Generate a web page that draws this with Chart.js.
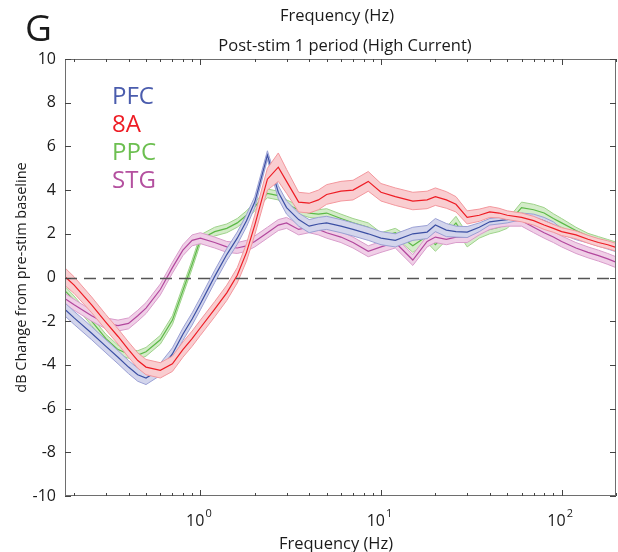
<!DOCTYPE html>
<html>
<head>
<meta charset="utf-8">
<script src="https://cdn.jsdelivr.net/npm/chart.js@4.4.1/dist/chart.umd.min.js"></script>
<style>
  html, body { margin: 0; padding: 0; background: #fff; }
  #wrap { width: 618px; height: 552px; }
</style>
</head>
<body>
<div id="wrap"><canvas id="c" width="618" height="552"></canvas></div>
<script>
// Frequencies (Hz) shared by all regions
const freqs = [0.18,0.2,0.25,0.3,0.35,0.4,0.45,0.5,0.6,0.7,
               0.8,0.9,1.0,1.2,1.4,1.6,1.8,2.0,2.35,2.7,
               3.0,3.5,4,4.5,5,6,7,8.5,10,12,
               15,18,20,23,26,30,35,40,45,50,
               60,70,80,90,100,120,140,160,180,200];

// Mean dB change per region
const pfcMean = [-1.5,-1.85,-2.55,-3.15,-3.65,-4.1,-4.45,-4.6,-4.2,-3.5,
                 -2.6,-1.9,-1.2,0.05,1.05,1.8,2.6,3.45,5.6,3.9,
                 3.2,2.65,2.35,2.45,2.5,2.35,2.2,2.0,1.8,1.7,
                 2.0,2.08,2.4,2.17,2.1,2.08,2.3,2.55,2.6,2.65,
                 2.8,2.75,2.6,2.4,2.1,1.85,1.7,1.55,1.42,1.3];
const a8Mean  = [0.0,-0.35,-1.25,-2.05,-2.7,-3.3,-3.8,-4.1,-4.25,-3.95,
                 -3.3,-2.8,-2.3,-1.45,-0.7,0.1,1.15,2.4,4.5,5.05,
                 4.4,3.45,3.4,3.55,3.8,3.95,4.0,4.4,3.9,3.7,
                 3.5,3.55,3.7,3.55,3.35,2.75,2.85,3.0,2.95,2.85,
                 2.75,2.6,2.4,2.25,2.1,1.95,1.75,1.6,1.5,1.38];
const ppcMean = [-0.65,-1.05,-2.0,-2.8,-3.3,-3.5,-3.55,-3.4,-2.85,-1.95,
                 -0.6,0.6,1.75,2.1,2.25,2.5,2.85,3.25,3.85,3.75,
                 3.35,3.1,2.95,2.9,2.95,2.7,2.5,2.3,1.85,2.05,
                 1.45,1.9,1.5,2.0,2.5,1.7,2.05,2.2,2.3,2.45,
                 3.2,3.1,2.95,2.7,2.5,2.15,1.9,1.75,1.62,1.5];
const stgMean = [-1.0,-1.25,-1.75,-2.1,-2.2,-2.1,-1.75,-1.4,-0.55,0.45,
                 1.25,1.7,1.8,1.6,1.4,1.35,1.45,1.65,2.05,2.4,
                 2.5,2.2,2.3,2.2,2.05,1.85,1.6,1.2,1.4,1.6,
                 0.8,1.65,1.85,1.75,1.85,1.85,2.2,2.45,2.55,2.6,
                 2.6,2.3,2.05,1.85,1.65,1.35,1.15,1.0,0.85,0.7];

// Standard error half-widths per region
const pfcSem = [0.3,0.3,0.3,0.3,0.3,0.3,0.3,0.3,0.28,0.28,
                0.28,0.28,0.28,0.28,0.28,0.28,0.28,0.25,0.2,0.3,
                0.3,0.3,0.3,0.3,0.3,0.3,0.3,0.3,0.3,0.3,
                0.3,0.3,0.3,0.3,0.25,0.25,0.2,0.15,0.15,0.15,
                0.15,0.15,0.15,0.15,0.12,0.12,0.12,0.12,0.12,0.12];
const a8Sem  = [0.4,0.38,0.36,0.35,0.35,0.35,0.35,0.35,0.35,0.35,
                0.35,0.35,0.35,0.35,0.35,0.35,0.4,0.45,0.5,0.65,
                0.55,0.45,0.45,0.45,0.45,0.45,0.45,0.45,0.4,0.4,
                0.4,0.4,0.4,0.38,0.35,0.3,0.28,0.25,0.22,0.2,
                0.2,0.2,0.2,0.18,0.18,0.18,0.18,0.18,0.18,0.18];
const ppcSem = [0.2,0.2,0.2,0.2,0.2,0.2,0.2,0.2,0.2,0.2,
                0.2,0.2,0.2,0.2,0.2,0.2,0.2,0.2,0.2,0.2,
                0.2,0.2,0.2,0.2,0.2,0.2,0.2,0.2,0.2,0.2,
                0.3,0.3,0.3,0.3,0.3,0.3,0.25,0.2,0.2,0.2,
                0.25,0.25,0.25,0.22,0.2,0.15,0.12,0.12,0.12,0.12];
const stgSem = [0.25,0.25,0.25,0.25,0.25,0.25,0.25,0.25,0.25,0.25,
                0.25,0.25,0.25,0.25,0.25,0.25,0.25,0.25,0.25,0.25,
                0.25,0.25,0.25,0.25,0.25,0.25,0.25,0.25,0.25,0.25,
                0.25,0.25,0.25,0.25,0.25,0.25,0.25,0.25,0.25,0.25,
                0.25,0.25,0.25,0.25,0.25,0.25,0.25,0.25,0.25,0.25];

const regionNames = ['PFC', '8A', 'PPC', 'STG'];
const yTicks = [-10,-8,-6,-4,-2,0,2,4,6,8,10];
const decadeTicks = [1, 10, 100];
const decadeLabels = ['0', '1', '2'];

const FONT = "'Open Sans', 'DejaVu Sans', sans-serif";

// line, band fill, band edge, legend text colour
const styles = {
  PFC: { line: '#3b4fa3', fill: '#d3d5ec', edge: '#9aa0d4', text: '#4a5cad' },
  '8A': { line: '#ee1c24', fill: '#f9cdd0', edge: '#f3979d', text: '#ee1c24' },
  PPC: { line: '#5cb947', fill: '#d4ecc9', edge: '#9ed38a', text: '#6cbf50' },
  STG: { line: '#b2479d', fill: '#f0cfe7', edge: '#d99ccb', text: '#b4509f' }
};

const series = {
  PFC: { mean: pfcMean, sem: pfcSem, layer: 1 },
  '8A': { mean: a8Mean, sem: a8Sem, layer: 0 },
  PPC: { mean: ppcMean, sem: ppcSem, layer: 3 },
  STG: { mean: stgMean, sem: stgSem, layer: 2 }
};

const datasets = [];
regionNames.forEach(name => {
  const s = series[name], st = styles[name];
  const upper = freqs.map((f, i) => ({ x: f, y: s.mean[i] + s.sem[i] }));
  const lower = freqs.map((f, i) => ({ x: f, y: s.mean[i] - s.sem[i] }));
  const mean = freqs.map((f, i) => ({ x: f, y: s.mean[i] }));
  const upIdx = datasets.length;
  datasets.push({ label: name + ' upper', data: upper, borderColor: st.edge, borderWidth: 1,
                  pointRadius: 0, fill: false, tension: 0, order: s.layer * 3 + 1 });
  datasets.push({ label: name + ' lower', data: lower, borderColor: st.edge, borderWidth: 1,
                  backgroundColor: st.fill, pointRadius: 0, fill: upIdx, tension: 0,
                  order: s.layer * 3 + 2 });
  datasets.push({ label: name, data: mean, borderColor: st.line, borderWidth: 1.2,
                  pointRadius: 0, fill: false, tension: 0, order: s.layer * 3 });
});

// Frame, tick marks, reference line and all annotation text
const decorPlugin = {
  id: 'decor',
  afterDatasetsDraw(chart) {
    const { ctx, chartArea: a, scales: { x, y } } = chart;
    ctx.save();
    const y0 = Math.round(y.getPixelForValue(0)) + 0.5;
    ctx.strokeStyle = '#555';
    ctx.lineWidth = 1.3;
    ctx.setLineDash([12, 7]);
    ctx.beginPath(); ctx.moveTo(a.left, y0); ctx.lineTo(a.right, y0); ctx.stroke();
    ctx.setLineDash([]);

    ctx.strokeStyle = '#6e6e6e';
    ctx.lineWidth = 1;
    ctx.strokeRect(a.left + 0.5, a.top + 0.5, a.right - a.left - 1, a.bottom - a.top - 1);
    ctx.strokeStyle = '#444';
    const seg = (x1, y1, x2, y2) => { ctx.beginPath(); ctx.moveTo(x1, y1); ctx.lineTo(x2, y2); ctx.stroke(); };
    yTicks.forEach(v => {
      const py = Math.round(y.getPixelForValue(v)) + 0.5;
      seg(a.left, py, a.left + 6, py);
      seg(a.right, py, a.right - 6, py);
    });
    for (let d = -1; d <= 2; d++) {
      for (let m = 1; m <= 9; m++) {
        const f = m * Math.pow(10, d);
        if (f < x.min || f > x.max) continue;
        const px = Math.round(x.getPixelForValue(f)) + 0.5;
        const len = m === 1 ? 6 : 3;
        seg(px, a.bottom, px, a.bottom - len);
        seg(px, a.top, px, a.top + len);
      }
    }
    ctx.restore();
  },
  afterDraw(chart) {
    const { ctx, chartArea: a, scales: { x } } = chart;
    ctx.save();
    ctx.fillStyle = '#1a1a1a';
    // decade labels with superscript exponent
    decadeTicks.forEach((f, i) => {
      const px = x.getPixelForValue(f);
      ctx.font = '16px ' + FONT;
      ctx.textBaseline = 'alphabetic';
      ctx.textAlign = 'right';
      ctx.fillText('10', px + 4, 526);
      ctx.font = '11px ' + FONT;
      ctx.textAlign = 'left';
      ctx.fillText(decadeLabels[i], px + 5, 517);
    });
    ctx.textAlign = 'center';
    ctx.font = '16.5px ' + FONT;
    ctx.fillText('Frequency (Hz)', 336, 549);
    ctx.fillText('Frequency (Hz)', 337, 21);
    ctx.fillText('Post-stim 1 period (High Current)', 345, 51);
    ctx.font = '37px ' + FONT;
    ctx.textAlign = 'left';
    ctx.fillText('G', 25, 41);
    // y-axis title
    ctx.save();
    ctx.translate(22, (a.top + a.bottom) / 2);
    ctx.rotate(-Math.PI / 2);
    ctx.font = '14.5px ' + FONT;
    ctx.textAlign = 'center';
    ctx.textBaseline = 'middle';
    ctx.fillText('dB Change from pre-stim baseline', 0, 0);
    ctx.restore();
    // region legend
    ctx.font = '24px ' + FONT;
    ctx.textAlign = 'left';
    ctx.textBaseline = 'middle';
    regionNames.forEach((n, i) => {
      ctx.fillStyle = styles[n].text;
      ctx.fillText(n, 112, 97 + i * 28);
    });
    ctx.restore();
  }
};

new Chart(document.getElementById('c'), {
  type: 'line',
  data: { datasets },
  plugins: [decorPlugin],
  options: {
    responsive: false,
    animation: false,
    devicePixelRatio: 1,
    layout: { padding: { top: 59, right: 2, left: 0, bottom: 0 } },
    plugins: {
      legend: { display: false },
      title: { display: false },
      tooltip: { enabled: false },
      filler: { propagate: false }
    },
    scales: {
      x: {
        type: 'logarithmic',
        min: 0.178,
        max: 200,
        grid: { display: false },
        border: { display: false },
        ticks: { display: false },
        afterFit: s => { s.height = 56; }
      },
      y: {
        min: -10,
        max: 10,
        grid: { display: false, drawTicks: false },
        border: { display: false },
        ticks: {
          stepSize: 2,
          padding: 9,
          color: '#1a1a1a',
          font: { family: FONT, size: 16 }
        },
        afterFit: s => { s.width = 65; }
      }
    }
  }
});
</script>
</body>
</html>
